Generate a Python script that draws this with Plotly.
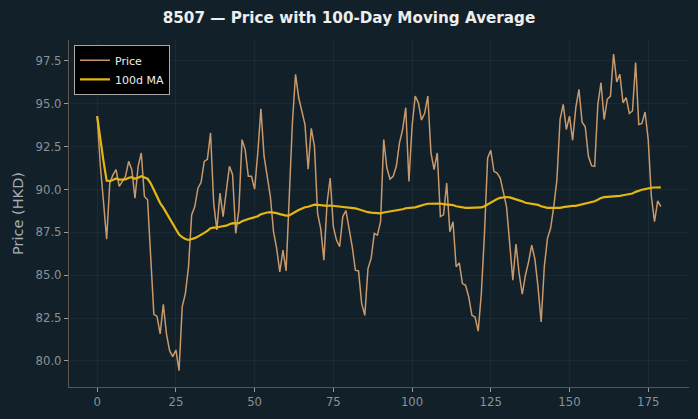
import pandas as pd
import plotly.graph_objects as go

days = list(range(180))
price = [
    94.28, 91.4, 89.3, 87.1, 90.37, 90.86, 91.16, 90.18, 90.47, 90.77,
    91.64, 91.16, 89.49, 91.35, 92.13, 89.59, 89.4, 85.8, 82.72, 82.6,
    81.58, 83.3, 81.58, 80.6, 80.25, 80.64, 79.43, 83.15, 83.93, 85.49,
    88.52, 89.0, 90.08, 90.42, 91.64, 91.76, 93.3, 89.2, 87.64, 89.79,
    88.42, 89.9, 91.35, 90.86, 87.44, 88.81, 92.91, 92.33, 90.77, 90.77,
    90.02, 92.13, 94.71, 91.94, 90.77, 89.59, 87.54, 86.56, 85.2, 86.46,
    85.25, 89.4, 93.89, 96.72, 95.35, 94.57, 93.79, 91.19, 93.57, 92.52,
    88.61, 87.7, 85.88, 89.2, 90.67, 87.83, 87.05, 86.66, 88.42, 88.77,
    87.74, 86.66, 85.29, 85.25, 83.34, 82.66, 85.39, 85.98, 87.44, 87.34,
    88.12, 92.91, 91.25, 90.61, 90.77, 91.35, 92.72, 93.5, 94.77, 90.47,
    93.69, 95.45, 95.06, 94.05, 94.45, 95.45, 92.13, 91.16, 92.13, 88.42,
    88.52, 90.37, 87.54, 88.12, 85.49, 85.72, 84.51, 84.41, 83.73, 82.66,
    82.56, 81.74, 83.93, 87.44, 91.84, 92.29, 91.06, 90.96, 90.67, 89.79,
    89.0, 86.86, 84.71, 86.82, 85.1, 83.89, 85.0, 85.78, 86.76, 85.95,
    84.32, 82.27, 85.49, 87.15, 87.74, 89.0, 90.57, 94.08, 94.96, 93.5,
    94.28, 92.87, 94.77, 95.84, 93.93, 93.66, 91.94, 91.39, 91.35, 94.96,
    96.23, 94.08, 95.26, 95.45, 97.9, 96.27, 96.72, 95.06, 95.36, 94.44,
    94.58, 97.41, 93.79, 93.85, 94.52, 92.91, 89.59, 88.12, 89.34, 89.0,
]
ma = pd.Series(price).rolling(100, min_periods=1).mean().tolist()

title_text = "8507 — Price with 100-Day Moving Average"
x_ticks = [0, 25, 50, 75, 100, 125, 150, 175]
y_ticks = [80.0, 82.5, 85.0, 87.5, 90.0, 92.5, 95.0, 97.5]

BG = "#112029"
GRID = "rgba(255,255,255,0.045)"
TICKC = "#8b9096"
AXC = "#5e554c"
FONT = "DejaVu Sans"

fig = go.Figure()
fig.add_trace(go.Scatter(x=days, y=price, mode="lines", name="Price",
                         line=dict(color="#c9996b", width=1.5)))
fig.add_trace(go.Scatter(x=days, y=ma, mode="lines", name="100d MA",
                         line=dict(color="#e5b612", width=2.2)))

fig.update_layout(
    width=698, height=419,
    paper_bgcolor=BG, plot_bgcolor=BG,
    margin=dict(l=69, r=9, t=40, b=32),
    title=dict(text="<b>" + title_text + "</b>", x=0.5, xanchor="center",
               y=1 - 18 / 419, yanchor="middle",
               font=dict(family=FONT, size=15.2, color="#eeeeee")),
    font=dict(family=FONT, color=TICKC),
    showlegend=True,
    legend=dict(x=0.008, y=0.986, xanchor="left", yanchor="top",
                bgcolor="#000000", bordercolor="#a8a8a8", borderwidth=1,
                font=dict(family=FONT, size=11, color="#eeeeee"),
                itemwidth=30, tracegroupgap=0),
)
fig.update_xaxes(
    range=[-8.95, 187.95], tickvals=x_ticks, ticktext=[str(v) for v in x_ticks],
    showgrid=True, gridcolor=GRID, gridwidth=1, zeroline=False,
    showline=True, linecolor=AXC, linewidth=1.2, mirror=False,
    ticks="outside", ticklen=4, tickcolor="#9a9a9a", tickwidth=1,
    tickfont=dict(family=FONT, size=11.7, color=TICKC),
)
fig.update_yaxes(
    range=[78.48, 98.72], tickvals=y_ticks, ticktext=[f"{v:.1f}" for v in y_ticks],
    showgrid=True, gridcolor=GRID, gridwidth=1, zeroline=False,
    showline=True, linecolor=AXC, linewidth=1.2, mirror=False,
    ticks="outside", ticklen=4, tickcolor="#9a9a9a", tickwidth=1,
    tickfont=dict(family=FONT, size=11.7, color=TICKC),
    title=dict(text="Price (HKD)", font=dict(family=FONT, size=14.5, color="#a9aeb3"),
               standoff=8),
)

fig.write_html("out.html")
